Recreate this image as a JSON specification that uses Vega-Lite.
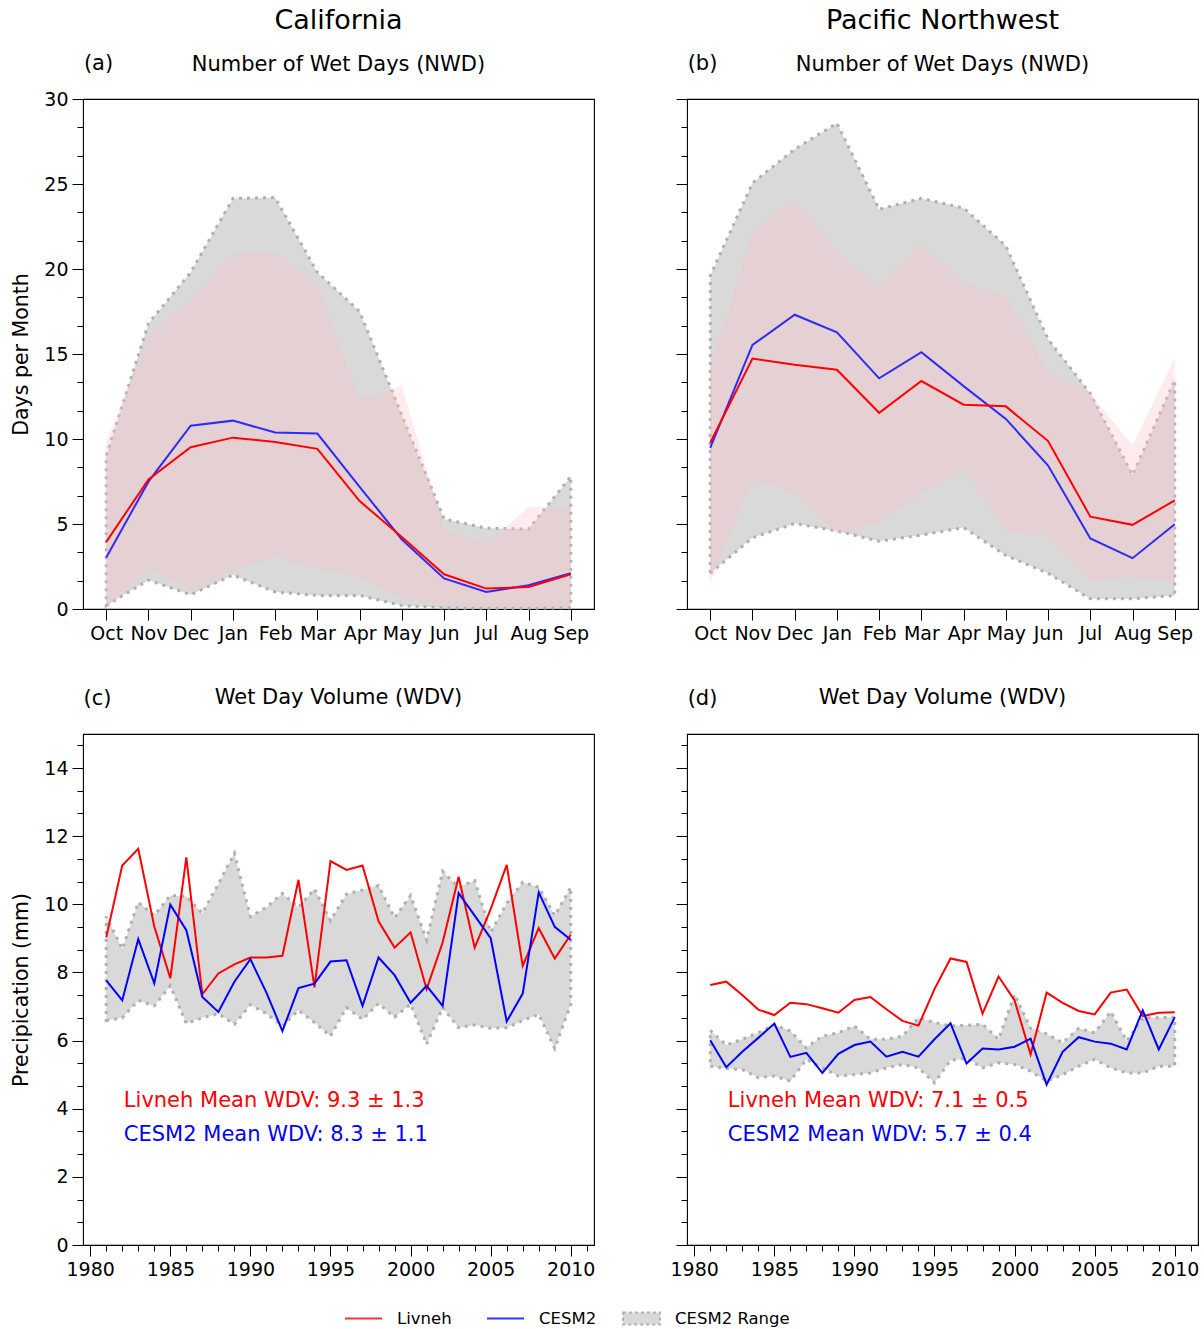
{
  "$schema": "https://vega.github.io/schema/vega-lite/v6.json",
  "padding": {"left": 11, "top": 6, "right": 5, "bottom": 5},
  "columns": 2,
  "spacing": {"row": 42, "column": 73},
  "config": {
    "font": "DejaVu Sans",
    "view": {"stroke": "#000000", "strokeWidth": 1.1},
    "axis": {"grid": false, "domain": false, "tickColor": "#000000", "tickSize": 11, "tickWidth": 1, "labelFontSize": 19, "labelColor": "#000000", "labelPadding": 4, "titleFontSize": 20.5, "titleFontWeight": "normal", "titleColor": "#000000", "labelFont": "DejaVu Sans", "titleFont": "DejaVu Sans"},
    "title": {"font": "DejaVu Sans", "fontWeight": "normal", "color": "#000000", "subtitleFont": "DejaVu Sans", "subtitleColor": "#000000", "subtitleFontSize": 21, "fontSize": 21},
    "legend": {"padding": 0, "labelFont": "DejaVu Sans"}
  },
  "concat": [
    {
      "width": 511, "height": 510,
      "title": {"text": "California", "subtitle": "Number of Wet Days (NWD)", "fontSize": 27, "subtitleFontSize": 21, "subtitlePadding": 19, "anchor": "middle", "frame": "group", "offset": -24},
      "data": {"values": [
        {"month": "Oct", "livneh": 3.95, "cesm2": 3.03, "cmin": 0.2, "cmax": 9.0, "lmin": 0.0, "lmax": 9.8},
        {"month": "Nov", "livneh": 7.62, "cesm2": 7.49, "cmin": 1.7, "cmax": 16.8, "lmin": 2.4, "lmax": 16.1},
        {"month": "Dec", "livneh": 9.52, "cesm2": 10.78, "cmin": 0.84, "cmax": 19.8, "lmin": 1.1, "lmax": 18.2},
        {"month": "Jan", "livneh": 10.08, "cesm2": 11.08, "cmin": 2.0, "cmax": 24.15, "lmin": 2.3, "lmax": 20.9},
        {"month": "Feb", "livneh": 9.82, "cesm2": 10.38, "cmin": 1.0, "cmax": 24.2, "lmin": 3.1, "lmax": 21.0},
        {"month": "Mar", "livneh": 9.42, "cesm2": 10.32, "cmin": 0.8, "cmax": 19.8, "lmin": 2.4, "lmax": 19.1},
        {"month": "Apr", "livneh": 6.35, "cesm2": 7.19, "cmin": 0.8, "cmax": 17.5, "lmin": 1.9, "lmax": 12.3},
        {"month": "May", "livneh": 4.23, "cesm2": 4.09, "cmin": 0.2, "cmax": 11.4, "lmin": 0.66, "lmax": 13.1},
        {"month": "Jun", "livneh": 2.04, "cesm2": 1.8, "cmin": 0.06, "cmax": 5.3, "lmin": 0.2, "lmax": 4.75},
        {"month": "Jul", "livneh": 1.2, "cesm2": 1.0, "cmin": 0.04, "cmax": 4.75, "lmin": 0.1, "lmax": 3.8},
        {"month": "Aug", "livneh": 1.3, "cesm2": 1.4, "cmin": 0.04, "cmax": 4.7, "lmin": 0.1, "lmax": 6.0},
        {"month": "Sep", "livneh": 2.04, "cesm2": 2.1, "cmin": 0.08, "cmax": 7.8, "lmin": 0.1, "lmax": 5.95}
      ]},
      "encoding": {
        "x": {"field": "month", "type": "ordinal", "sort": ["Oct","Nov","Dec","Jan","Feb","Mar","Apr","May","Jun","Jul","Aug","Sep"], "scale": {"type": "point", "padding": 0.55}, "axis": {"orient": "bottom", "labelAngle": 0, "title": null}}
      },
      "layer": [
        {"mark": {"type": "area", "stroke": "#b0b0b0", "strokeWidth": 3, "strokeDash": [3, 5]},
         "encoding": {
           "y": {"field": "cmin", "type": "quantitative", "scale": {"domain": [0, 30], "nice": false, "zero": false}, "axis": {"orient": "left", "values": [0,5,10,15,20,25,30], "title": "Days per Month", "titlePadding": 12}},
           "y2": {"field": "cmax"},
           "fill": {"datum": "CESM2 Range", "type": "nominal", "scale": {"domain": ["CESM2 Range"], "range": ["#d9d9d9"]},
             "legend": {"title": null, "orient": "none", "legendX": 539, "legendY": 1200, "direction": "horizontal", "symbolType": "M-1,-0.33H1V0.33H-1Z", "symbolSize": 1369, "symbolStrokeColor": "#b0b0b0", "symbolStrokeWidth": 2, "symbolDash": [3, 3], "symbolOpacity": 1, "labelFontSize": 16.5, "labelOffset": 14, "labelColor": "#000000"}}
         }},
        {"mark": {"type": "area", "fill": "#ffc0cb", "fillOpacity": 0.33},
         "encoding": {
           "y": {"field": "lmin", "type": "quantitative", "scale": {"domain": [0, 30], "nice": false, "zero": false}, "axis": {"orient": "left", "values": [1.6667,3.3333,6.6667,8.3333,11.6667,13.3333,16.6667,18.3333,21.6667,23.3333,26.6667,28.3333], "tickSize": 6, "labels": false, "title": "(a)", "titleAngle": 0, "titleX": 15, "titleY": -36, "titleAlign": "center", "titleBaseline": "middle", "titleFontSize": 21}},
           "y2": {"field": "lmax"}
         }},
        {"mark": {"type": "line", "strokeWidth": 2, "opacity": 0.8},
         "encoding": {
           "y": {"field": "cesm2", "type": "quantitative", "scale": {"domain": [0, 30], "nice": false, "zero": false}, "axis": null},
           "color": {"datum": "CESM2", "type": "nominal", "scale": {"domain": ["Livneh", "CESM2"], "range": ["#ff0000", "#0000ff"]}}
         }},
        {"mark": {"type": "line", "strokeWidth": 2},
         "encoding": {
           "y": {"field": "livneh", "type": "quantitative", "scale": {"domain": [0, 30], "nice": false, "zero": false}, "axis": null},
           "color": {"datum": "Livneh", "type": "nominal", "scale": {"domain": ["Livneh", "CESM2"], "range": ["#ff0000", "#0000ff"]},
             "legend": {"title": null, "orient": "none", "legendX": 261, "legendY": 1200, "direction": "horizontal", "symbolType": "stroke", "symbolSize": 1369, "symbolStrokeWidth": 2, "symbolOpacity": 1, "labelFontSize": 16.5, "labelOffset": 14, "columnPadding": 31, "labelColor": "#000000"}}
         }}
      ],
      "resolve": {"axis": {"y": "independent"}}
    },
    {
      "width": 511, "height": 510,
      "title": {"text": "Pacific Northwest", "subtitle": "Number of Wet Days (NWD)", "fontSize": 27, "subtitleFontSize": 21, "subtitlePadding": 19, "anchor": "middle", "frame": "group", "offset": -24},
      "data": {"values": [
        {"month": "Oct", "livneh": 9.78, "cesm2": 9.48, "cmin": 2.1, "cmax": 19.6, "lmin": 1.5, "lmax": 14.17},
        {"month": "Nov", "livneh": 14.73, "cesm2": 15.53, "cmin": 4.19, "cmax": 25.05, "lmin": 7.62, "lmax": 22.3},
        {"month": "Dec", "livneh": 14.37, "cesm2": 17.31, "cmin": 5.03, "cmax": 27.05, "lmin": 6.89, "lmax": 24.1},
        {"month": "Jan", "livneh": 14.07, "cesm2": 16.27, "cmin": 4.59, "cmax": 28.58, "lmin": 4.39, "lmax": 20.96},
        {"month": "Feb", "livneh": 11.54, "cesm2": 13.57, "cmin": 3.99, "cmax": 23.51, "lmin": 5.15, "lmax": 19.0},
        {"month": "Mar", "livneh": 13.41, "cesm2": 15.11, "cmin": 4.35, "cmax": 24.15, "lmin": 6.79, "lmax": 21.5},
        {"month": "Apr", "livneh": 12.02, "cesm2": 13.11, "cmin": 4.79, "cmax": 23.59, "lmin": 8.22, "lmax": 19.2},
        {"month": "May", "livneh": 11.92, "cesm2": 11.18, "cmin": 3.15, "cmax": 21.36, "lmin": 4.59, "lmax": 18.4},
        {"month": "Jun", "livneh": 9.88, "cesm2": 8.44, "cmin": 2.1, "cmax": 15.87, "lmin": 4.23, "lmax": 14.0},
        {"month": "Jul", "livneh": 5.43, "cesm2": 4.15, "cmin": 0.6, "cmax": 12.67, "lmin": 1.64, "lmax": 12.67},
        {"month": "Aug", "livneh": 4.95, "cesm2": 2.99, "cmin": 0.6, "cmax": 7.88, "lmin": 1.9, "lmax": 9.62},
        {"month": "Sep", "livneh": 6.39, "cesm2": 4.99, "cmin": 0.8, "cmax": 13.47, "lmin": 1.6, "lmax": 14.77}
      ]},
      "encoding": {
        "x": {"field": "month", "type": "ordinal", "sort": ["Oct","Nov","Dec","Jan","Feb","Mar","Apr","May","Jun","Jul","Aug","Sep"], "scale": {"type": "point", "padding": 0.55}, "axis": {"orient": "bottom", "labelAngle": 0, "title": null}}
      },
      "layer": [
        {"mark": {"type": "area", "stroke": "#b0b0b0", "strokeWidth": 3, "strokeDash": [3, 5]},
         "encoding": {
           "y": {"field": "cmin", "type": "quantitative", "scale": {"domain": [0, 30], "nice": false, "zero": false}, "axis": {"orient": "left", "values": [0,5,10,15,20,25,30], "labels": false, "title": null}},
           "y2": {"field": "cmax"},
           "fill": {"datum": "CESM2 Range", "type": "nominal", "scale": {"domain": ["CESM2 Range"], "range": ["#d9d9d9"]}}
         }},
        {"mark": {"type": "area", "fill": "#ffc0cb", "fillOpacity": 0.33},
         "encoding": {
           "y": {"field": "lmin", "type": "quantitative", "scale": {"domain": [0, 30], "nice": false, "zero": false}, "axis": {"orient": "left", "values": [1.6667,3.3333,6.6667,8.3333,11.6667,13.3333,16.6667,18.3333,21.6667,23.3333,26.6667,28.3333], "tickSize": 6, "labels": false, "title": "(b)", "titleAngle": 0, "titleX": 15, "titleY": -36, "titleAlign": "center", "titleBaseline": "middle", "titleFontSize": 21}},
           "y2": {"field": "lmax"}
         }},
        {"mark": {"type": "line", "strokeWidth": 2, "opacity": 0.8},
         "encoding": {
           "y": {"field": "cesm2", "type": "quantitative", "scale": {"domain": [0, 30], "nice": false, "zero": false}, "axis": null},
           "color": {"datum": "CESM2", "type": "nominal", "scale": {"domain": ["Livneh", "CESM2"], "range": ["#ff0000", "#0000ff"]}}
         }},
        {"mark": {"type": "line", "strokeWidth": 2},
         "encoding": {
           "y": {"field": "livneh", "type": "quantitative", "scale": {"domain": [0, 30], "nice": false, "zero": false}, "axis": null},
           "color": {"datum": "Livneh", "type": "nominal", "scale": {"domain": ["Livneh", "CESM2"], "range": ["#ff0000", "#0000ff"]}}
         }}
      ],
      "resolve": {"axis": {"y": "independent"}}
    },
    {
      "width": 511, "height": 511,
      "title": {"text": "Wet Day Volume (WDV)", "fontSize": 21, "anchor": "middle", "frame": "group", "offset": -21},
      "data": {"values": [
        {"year": 1981, "livneh": 9.03, "cesm2": 7.77, "cmin": 6.59, "cmax": 9.64},
        {"year": 1982, "livneh": 11.14, "cesm2": 7.18, "cmin": 6.67, "cmax": 8.69},
        {"year": 1983, "livneh": 11.63, "cesm2": 8.98, "cmin": 7.18, "cmax": 10.06},
        {"year": 1984, "livneh": 9.35, "cesm2": 7.68, "cmin": 7.02, "cmax": 9.67},
        {"year": 1985, "livneh": 7.83, "cesm2": 9.99, "cmin": 7.61, "cmax": 10.26},
        {"year": 1986, "livneh": 11.38, "cesm2": 9.24, "cmin": 6.5, "cmax": 10.23},
        {"year": 1987, "livneh": 7.36, "cesm2": 7.28, "cmin": 6.67, "cmax": 9.74},
        {"year": 1988, "livneh": 7.97, "cesm2": 6.84, "cmin": 6.79, "cmax": 10.6},
        {"year": 1989, "livneh": 8.24, "cesm2": 7.73, "cmin": 6.48, "cmax": 11.5},
        {"year": 1990, "livneh": 8.44, "cesm2": 8.39, "cmin": 7.05, "cmax": 9.64},
        {"year": 1991, "livneh": 8.44, "cesm2": 7.41, "cmin": 6.79, "cmax": 9.91},
        {"year": 1992, "livneh": 8.49, "cesm2": 6.28, "cmin": 6.43, "cmax": 10.32},
        {"year": 1993, "livneh": 10.72, "cesm2": 7.54, "cmin": 6.89, "cmax": 9.91},
        {"year": 1994, "livneh": 7.56, "cesm2": 7.67, "cmin": 6.53, "cmax": 10.45},
        {"year": 1995, "livneh": 11.27, "cesm2": 8.32, "cmin": 6.13, "cmax": 9.52},
        {"year": 1996, "livneh": 11.01, "cesm2": 8.36, "cmin": 6.97, "cmax": 10.3},
        {"year": 1997, "livneh": 11.14, "cesm2": 7.02, "cmin": 6.62, "cmax": 10.42},
        {"year": 1998, "livneh": 9.5, "cesm2": 8.44, "cmin": 7.09, "cmax": 10.55},
        {"year": 1999, "livneh": 8.73, "cesm2": 7.92, "cmin": 6.69, "cmax": 9.6},
        {"year": 2000, "livneh": 9.18, "cesm2": 7.11, "cmin": 7.07, "cmax": 10.26},
        {"year": 2001, "livneh": 7.51, "cesm2": 7.61, "cmin": 5.89, "cmax": 8.95},
        {"year": 2002, "livneh": 8.88, "cesm2": 7.02, "cmin": 6.97, "cmax": 10.97},
        {"year": 2003, "livneh": 10.81, "cesm2": 10.33, "cmin": 6.38, "cmax": 10.5},
        {"year": 2004, "livneh": 8.73, "cesm2": 9.67, "cmin": 6.46, "cmax": 10.7},
        {"year": 2005, "livneh": 9.86, "cesm2": 9.01, "cmin": 6.36, "cmax": 9.18},
        {"year": 2006, "livneh": 11.16, "cesm2": 6.56, "cmin": 6.38, "cmax": 10.03},
        {"year": 2007, "livneh": 8.19, "cesm2": 7.38, "cmin": 6.59, "cmax": 10.65},
        {"year": 2008, "livneh": 9.3, "cesm2": 10.35, "cmin": 6.77, "cmax": 10.5},
        {"year": 2009, "livneh": 8.41, "cesm2": 9.34, "cmin": 5.77, "cmax": 9.67},
        {"year": 2010, "livneh": 9.11, "cesm2": 8.96, "cmin": 7.07, "cmax": 10.5}
      ]},
      "layer": [
        {"mark": {"type": "area", "stroke": "#b0b0b0", "strokeWidth": 3, "strokeDash": [3, 5]},
         "encoding": {
           "x": {"field": "year", "type": "quantitative", "scale": {"domain": [1979.55, 2011.45], "nice": false, "zero": false}, "axis": {"orient": "bottom", "values": [1980,1985,1990,1995,2000,2005,2010], "format": "d", "title": null, "labelFlush": false}},
           "y": {"field": "cmin", "type": "quantitative", "scale": {"domain": [0, 15], "nice": false, "zero": false}, "axis": {"orient": "left", "values": [0,2,4,6,8,10,12,14], "title": "Precipication (mm)", "titlePadding": 12}},
           "y2": {"field": "cmax"},
           "fill": {"datum": "CESM2 Range", "type": "nominal", "scale": {"domain": ["CESM2 Range"], "range": ["#d9d9d9"]}}
         }},
        {"mark": {"type": "line", "strokeWidth": 2},
         "encoding": {
           "x": {"field": "year", "type": "quantitative", "scale": {"domain": [1979.55, 2011.45], "nice": false, "zero": false}, "axis": {"orient": "bottom", "values": [1981,1982,1983,1984,1986,1987,1988,1989,1991,1992,1993,1994,1996,1997,1998,1999,2001,2002,2003,2004,2006,2007,2008,2009,2011], "tickSize": 6, "labels": false, "title": null}},
           "y": {"field": "livneh", "type": "quantitative", "scale": {"domain": [0, 15], "nice": false, "zero": false}, "axis": {"orient": "left", "values": [0.6667,1.3333,2.6667,3.3333,4.6667,5.3333,6.6667,7.3333,8.6667,9.3333,10.6667,11.3333,12.6667,13.3333,14.6667], "tickSize": 6, "labels": false, "title": "(c)", "titleAngle": 0, "titleX": 14, "titleY": -36, "titleAlign": "center", "titleBaseline": "middle", "titleFontSize": 21}},
           "color": {"datum": "Livneh", "type": "nominal", "scale": {"domain": ["Livneh", "CESM2"], "range": ["#ff0000", "#0000ff"]}}
         }},
        {"mark": {"type": "line", "strokeWidth": 2},
         "encoding": {
           "x": {"field": "year", "type": "quantitative", "scale": {"domain": [1979.55, 2011.45], "nice": false, "zero": false}, "axis": null},
           "y": {"field": "cesm2", "type": "quantitative", "scale": {"domain": [0, 15], "nice": false, "zero": false}, "axis": null},
           "color": {"datum": "CESM2", "type": "nominal", "scale": {"domain": ["Livneh", "CESM2"], "range": ["#ff0000", "#0000ff"]}}
         }},
        {"data": {"values": [{"label": "Livneh Mean WDV: 9.3 ± 1.3"}]},
         "mark": {"type": "text", "align": "left", "baseline": "middle", "fontSize": 21, "color": "#ff0000"},
         "encoding": {
           "x": {"datum": 1982.1, "type": "quantitative", "scale": {"domain": [1979.55, 2011.45], "nice": false, "zero": false}, "axis": null},
           "y": {"datum": 4.24, "type": "quantitative", "scale": {"domain": [0, 15], "nice": false, "zero": false}, "axis": null},
           "text": {"field": "label"}
         }},
        {"data": {"values": [{"label": "CESM2 Mean WDV: 8.3 ± 1.1"}]},
         "mark": {"type": "text", "align": "left", "baseline": "middle", "fontSize": 21, "color": "#0000ff"},
         "encoding": {
           "x": {"datum": 1982.1, "type": "quantitative", "scale": {"domain": [1979.55, 2011.45], "nice": false, "zero": false}, "axis": null},
           "y": {"datum": 3.24, "type": "quantitative", "scale": {"domain": [0, 15], "nice": false, "zero": false}, "axis": null},
           "text": {"field": "label"}
         }}
      ],
      "resolve": {"axis": {"x": "independent", "y": "independent"}}
    },
    {
      "width": 511, "height": 511,
      "title": {"text": "Wet Day Volume (WDV)", "fontSize": 21, "anchor": "middle", "frame": "group", "offset": -21},
      "data": {"values": [
        {"year": 1981, "livneh": 7.63, "cesm2": 6.01, "cmin": 5.25, "cmax": 6.3},
        {"year": 1982, "livneh": 7.73, "cesm2": 5.22, "cmin": 5.18, "cmax": 5.87},
        {"year": 1983, "livneh": 7.34, "cesm2": 5.67, "cmin": 5.15, "cmax": 6.04},
        {"year": 1984, "livneh": 6.91, "cesm2": 6.08, "cmin": 4.91, "cmax": 6.23},
        {"year": 1985, "livneh": 6.75, "cesm2": 6.5, "cmin": 4.96, "cmax": 6.46},
        {"year": 1986, "livneh": 7.11, "cesm2": 5.52, "cmin": 4.81, "cmax": 6.28},
        {"year": 1987, "livneh": 7.07, "cesm2": 5.64, "cmin": 5.45, "cmax": 5.79},
        {"year": 1988, "livneh": 6.95, "cesm2": 5.05, "cmin": 5.2, "cmax": 6.13},
        {"year": 1989, "livneh": 6.82, "cesm2": 5.61, "cmin": 4.96, "cmax": 6.23},
        {"year": 1990, "livneh": 7.19, "cesm2": 5.87, "cmin": 5.0, "cmax": 6.43},
        {"year": 1991, "livneh": 7.28, "cesm2": 5.97, "cmin": 5.05, "cmax": 6.04},
        {"year": 1992, "livneh": 6.92, "cesm2": 5.53, "cmin": 5.2, "cmax": 6.04},
        {"year": 1993, "livneh": 6.58, "cesm2": 5.67, "cmin": 5.3, "cmax": 6.13},
        {"year": 1994, "livneh": 6.44, "cesm2": 5.53, "cmin": 5.2, "cmax": 6.67},
        {"year": 1995, "livneh": 7.51, "cesm2": 6.04, "cmin": 4.76, "cmax": 6.53},
        {"year": 1996, "livneh": 8.41, "cesm2": 6.51, "cmin": 5.42, "cmax": 6.43},
        {"year": 1997, "livneh": 8.31, "cesm2": 5.33, "cmin": 5.48, "cmax": 6.45},
        {"year": 1998, "livneh": 6.79, "cesm2": 5.77, "cmin": 5.2, "cmax": 6.48},
        {"year": 1999, "livneh": 7.88, "cesm2": 5.74, "cmin": 5.35, "cmax": 6.04},
        {"year": 2000, "livneh": 7.18, "cesm2": 5.82, "cmin": 5.3, "cmax": 7.36},
        {"year": 2001, "livneh": 5.59, "cesm2": 6.06, "cmin": 5.1, "cmax": 6.36},
        {"year": 2002, "livneh": 7.41, "cesm2": 4.71, "cmin": 4.81, "cmax": 6.2},
        {"year": 2003, "livneh": 7.11, "cesm2": 5.67, "cmin": 5.0, "cmax": 5.94},
        {"year": 2004, "livneh": 6.87, "cesm2": 6.1, "cmin": 5.25, "cmax": 6.36},
        {"year": 2005, "livneh": 6.77, "cesm2": 5.97, "cmin": 5.45, "cmax": 6.23},
        {"year": 2006, "livneh": 7.41, "cesm2": 5.91, "cmin": 5.2, "cmax": 6.85},
        {"year": 2007, "livneh": 7.5, "cesm2": 5.74, "cmin": 5.05, "cmax": 5.99},
        {"year": 2008, "livneh": 6.72, "cesm2": 6.89, "cmin": 5.05, "cmax": 6.67},
        {"year": 2009, "livneh": 6.82, "cesm2": 5.74, "cmin": 5.25, "cmax": 6.67},
        {"year": 2010, "livneh": 6.83, "cesm2": 6.69, "cmin": 5.25, "cmax": 6.69}
      ]},
      "layer": [
        {"mark": {"type": "area", "stroke": "#b0b0b0", "strokeWidth": 3, "strokeDash": [3, 5]},
         "encoding": {
           "x": {"field": "year", "type": "quantitative", "scale": {"domain": [1979.55, 2011.45], "nice": false, "zero": false}, "axis": {"orient": "bottom", "values": [1980,1985,1990,1995,2000,2005,2010], "format": "d", "title": null, "labelFlush": false}},
           "y": {"field": "cmin", "type": "quantitative", "scale": {"domain": [0, 15], "nice": false, "zero": false}, "axis": {"orient": "left", "values": [0,2,4,6,8,10,12,14], "labels": false, "title": null}},
           "y2": {"field": "cmax"},
           "fill": {"datum": "CESM2 Range", "type": "nominal", "scale": {"domain": ["CESM2 Range"], "range": ["#d9d9d9"]}}
         }},
        {"mark": {"type": "line", "strokeWidth": 2},
         "encoding": {
           "x": {"field": "year", "type": "quantitative", "scale": {"domain": [1979.55, 2011.45], "nice": false, "zero": false}, "axis": {"orient": "bottom", "values": [1981,1982,1983,1984,1986,1987,1988,1989,1991,1992,1993,1994,1996,1997,1998,1999,2001,2002,2003,2004,2006,2007,2008,2009,2011], "tickSize": 6, "labels": false, "title": null}},
           "y": {"field": "livneh", "type": "quantitative", "scale": {"domain": [0, 15], "nice": false, "zero": false}, "axis": {"orient": "left", "values": [0.6667,1.3333,2.6667,3.3333,4.6667,5.3333,6.6667,7.3333,8.6667,9.3333,10.6667,11.3333,12.6667,13.3333,14.6667], "tickSize": 6, "labels": false, "title": "(d)", "titleAngle": 0, "titleX": 15, "titleY": -36, "titleAlign": "center", "titleBaseline": "middle", "titleFontSize": 21}},
           "color": {"datum": "Livneh", "type": "nominal", "scale": {"domain": ["Livneh", "CESM2"], "range": ["#ff0000", "#0000ff"]}}
         }},
        {"mark": {"type": "line", "strokeWidth": 2},
         "encoding": {
           "x": {"field": "year", "type": "quantitative", "scale": {"domain": [1979.55, 2011.45], "nice": false, "zero": false}, "axis": null},
           "y": {"field": "cesm2", "type": "quantitative", "scale": {"domain": [0, 15], "nice": false, "zero": false}, "axis": null},
           "color": {"datum": "CESM2", "type": "nominal", "scale": {"domain": ["Livneh", "CESM2"], "range": ["#ff0000", "#0000ff"]}}
         }},
        {"data": {"values": [{"label": "Livneh Mean WDV: 7.1 ± 0.5"}]},
         "mark": {"type": "text", "align": "left", "baseline": "middle", "fontSize": 21, "color": "#ff0000"},
         "encoding": {
           "x": {"datum": 1982.1, "type": "quantitative", "scale": {"domain": [1979.55, 2011.45], "nice": false, "zero": false}, "axis": null},
           "y": {"datum": 4.24, "type": "quantitative", "scale": {"domain": [0, 15], "nice": false, "zero": false}, "axis": null},
           "text": {"field": "label"}
         }},
        {"data": {"values": [{"label": "CESM2 Mean WDV: 5.7 ± 0.4"}]},
         "mark": {"type": "text", "align": "left", "baseline": "middle", "fontSize": 21, "color": "#0000ff"},
         "encoding": {
           "x": {"datum": 1982.1, "type": "quantitative", "scale": {"domain": [1979.55, 2011.45], "nice": false, "zero": false}, "axis": null},
           "y": {"datum": 3.24, "type": "quantitative", "scale": {"domain": [0, 15], "nice": false, "zero": false}, "axis": null},
           "text": {"field": "label"}
         }}
      ],
      "resolve": {"axis": {"x": "independent", "y": "independent"}}
    }
  ]
}
